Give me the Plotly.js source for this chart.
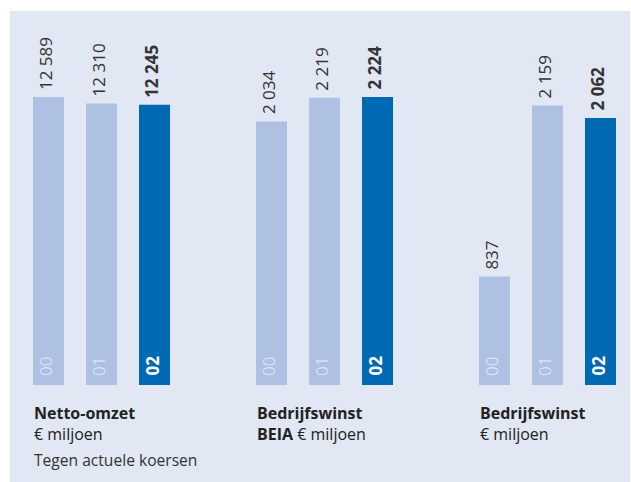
<!DOCTYPE html>
<html><head><meta charset="utf-8">
<script src="https://cdn.plot.ly/plotly-3.0.1.min.js"></script>
<style>html,body{margin:0;padding:0;background:#fff}#chart{width:631px;height:482px}</style>
</head><body><div id="chart"></div>
<script>
const years = ['00', '01', '02'];
const groupTitles = ['<b>Netto-omzet</b><br>€ miljoen', '<b>Bedrijfswinst</b><br><b>BEIA</b> € miljoen', '<b>Bedrijfswinst</b><br>€ miljoen'];
const nettoOmzet = [12589, 12310, 12245];
const bedrijfswinstBeia = [2034, 2219, 2224];
const bedrijfswinst = [837, 2159, 2062];
const valueLabels = [['12 589', '12 310', '12 245'], ['2 034', '2 219', '2 224'], ['837', '2 159', '2 062']];
const footnote = 'Tegen actuele koersen';

const groups = [nettoOmzet, bedrijfswinstBeia, bedrijfswinst];
const light = '#aec1e2', dark = '#0069b4', bg = '#e1e7f3', txt = '#333333';
const W = 631, H = 482;
const FONT = '"Open Sans", sans-serif';
const yScaleMax = [Math.max(...nettoOmzet), Math.max(...bedrijfswinstBeia, ...bedrijfswinst)];
const yAxisOf = [0, 1, 1];

const traces = [];
const annotations = [];
const layout = {
  width: W, height: H, margin: {l: 0, r: 0, t: 0, b: 0},
  paper_bgcolor: '#ffffff', plot_bgcolor: 'rgba(0,0,0,0)',
  showlegend: false, bargap: 0.415,
  font: {family: FONT, color: txt},
  shapes: [{type: 'rect', xref: 'paper', yref: 'paper', x0: 10 / W, x1: 630 / W, y0: 0, y1: 1 - 11 / H, fillcolor: bg, line: {width: 0}, layer: 'below'}],
  annotations: annotations
};
const yDom = [(H - 385) / H, (H - 97) / H];

groups.forEach((vals, g) => {
  const xn = g === 0 ? '' : String(g + 1);
  const yn = yAxisOf[g] === 0 ? '' : '2';
  const left = 22 + g * 223;
  layout['xaxis' + xn] = {domain: [left / W, (left + 159) / W], type: 'category', visible: false, anchor: 'y' + yn, fixedrange: true};
  if (g < 2) layout['yaxis' + yn] = {domain: yDom, range: [0, yScaleMax[yAxisOf[g]]], visible: false, anchor: 'x' + xn, fixedrange: true};
  traces.push({
    type: 'bar', x: years, y: vals, xaxis: 'x' + xn, yaxis: 'y' + yn,
    marker: {color: years.map((y, i) => i === 2 ? dark : light), line: {width: 0}},
    hoverinfo: 'skip', cliponaxis: false
  });
  vals.forEach((v, i) => {
    const bold = i === 2;
    annotations.push({
      xref: 'x' + xn, yref: 'y' + yn, x: years[i], y: v, text: bold ? '<b>' + valueLabels[g][i] + '</b>' : valueLabels[g][i],
      showarrow: false, textangle: -90, xanchor: 'center', yanchor: 'bottom', xshift: -3, yshift: 5,
      font: {family: FONT, size: 17, color: txt, weight: bold ? 700 : 400}
    });
    annotations.push({
      xref: 'x' + xn, yref: 'y' + yn, x: years[i], y: 0, text: bold ? '<b>' + years[i] + '</b>' : years[i],
      showarrow: false, textangle: -90, xanchor: 'center', yanchor: 'bottom', xshift: -3, yshift: 7,
      font: {family: FONT, size: 17, color: bold ? '#ffffff' : '#e8edf7', weight: bold ? 700 : 300}
    });
  });
  annotations.push({
    xref: 'paper', yref: 'paper', x: (left + 10) / W, y: 1 - 400 / H, xanchor: 'left', yanchor: 'top', align: 'left',
    text: groupTitles[g], showarrow: false, font: {family: FONT, size: 16, color: '#222222', weight: 400}
  });
});
annotations.push({
  xref: 'paper', yref: 'paper', x: 32 / W, y: 1 - 447 / H, xanchor: 'left', yanchor: 'top', align: 'left',
  text: footnote, showarrow: false, font: {family: FONT, size: 15.6, color: txt, weight: 400}
});

Plotly.newPlot('chart', traces, layout, {displayModeBar: false, staticPlot: true});
</script></body></html>
